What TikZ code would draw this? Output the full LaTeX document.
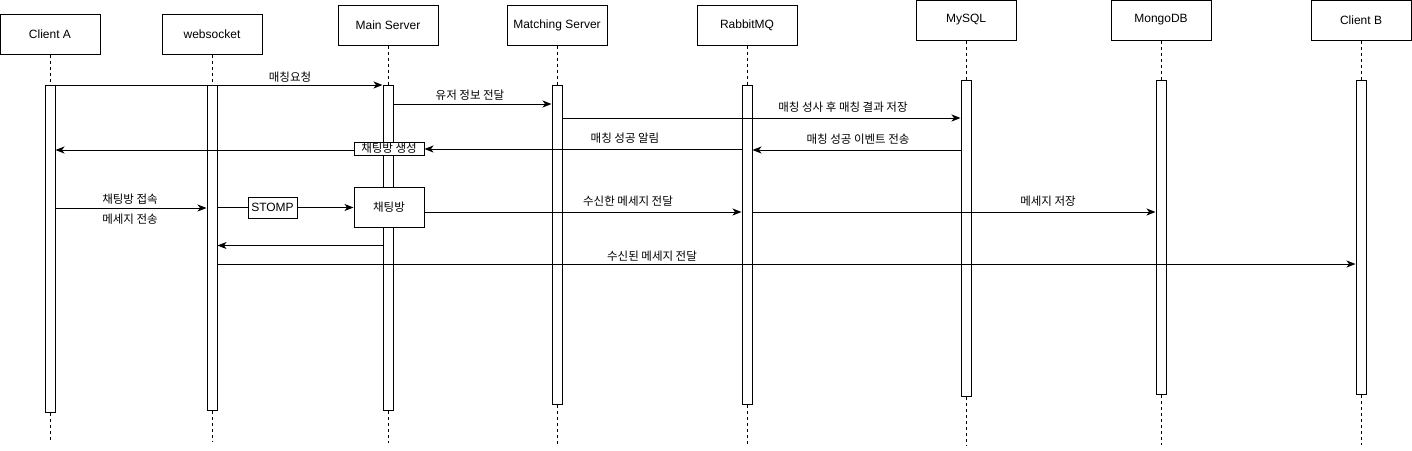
\documentclass[tikz,border=0pt]{standalone}
\usepackage{fontspec}
\setmainfont{Liberation Sans}
\newfontfamily\kr{Noto Sans CJK KR}
\usetikzlibrary{arrows.meta}
\begin{document}
\begin{tikzpicture}[x=1pt,y=-1pt,
 hdr/.style={draw,line width=1pt,minimum width=100pt,minimum height=40pt,inner sep=0pt,font=\fontsize{12}{14}\selectfont},
 bar/.style={draw,line width=1pt,fill=white,minimum width=10pt,inner sep=0pt,anchor=north},
 life/.style={line width=0.9pt,dash pattern=on 3pt off 3pt},
 msg/.style={line width=1pt,-{Stealth[length=9pt,width=7pt,inset=2.5pt]}},
 plain/.style={line width=1pt},
 lbl/.style={font=\kr\fontsize{11.5}{13}\selectfont,inner sep=0pt},
 tbox/.style={draw,line width=1pt,fill=white,inner sep=0pt}]
\useasboundingbox (0,0) rectangle (1412,450);
% headers
\node[hdr] (hA) at (50,34) {Client A};
\node[hdr] (hW) at (212,34) {websocket};
\node[hdr] (hM) at (388,25) {Main Server};
\node[hdr] (hMS) at (557,25) {Matching Server};
\node[hdr] (hR) at (747,25) {RabbitMQ};
\node[hdr] (hSQL) at (966,20) {MySQL};
\node[hdr] (hMG) at (1161,20) {MongoDB};
\node[hdr] (hB) at (1361,20) {Client B};
% lifeline ends
\coordinate (eA) at (50,440);
\coordinate (eW) at (212,442);
\coordinate (eM) at (388,443);
\coordinate (eMS) at (557,444);
\coordinate (eR) at (747,444);
\coordinate (eSQL) at (966,446);
\coordinate (eMG) at (1161,445);
\coordinate (eB) at (1361,445);
% activation bars
\node[bar,minimum height=327pt] (aA) at (50,85) {};
\node[bar,minimum height=325pt] (aW) at (212,85) {};
\node[bar,minimum height=325pt] (aM) at (388,85) {};
\node[bar,minimum height=319pt] (aMS) at (557,85) {};
\node[bar,minimum height=319pt] (aR) at (747,85) {};
\node[bar,minimum height=316pt] (aSQL) at (966,80) {};
\node[bar,minimum height=314pt] (aMG) at (1161,80) {};
\node[bar,minimum height=314pt] (aB) at (1361,80) {};
% lifelines
\foreach \n in {A,W,M,MS,R,SQL,MG,B}{
  \draw[life] (h\n.south) -- (a\n.north);
  \draw[life] (a\n.south) -- (e\n);
}
% boxes on main server
\node[tbox,minimum width=70pt,minimum height=13pt,font=\kr\fontsize{11.5}{12}\selectfont] (gen) at (389,148.5) {채팅방 생성};
\node[tbox,minimum width=70pt,minimum height=40pt,font=\kr\fontsize{11.5}{13}\selectfont] (room) at (389,207) {채팅방};
\node[tbox,minimum width=49pt,minimum height=21pt,font=\fontsize{12}{14}\selectfont] (stomp) at (272.5,207.5) {STOMP};
% messages
\draw[msg] (aA.east |- 0,85) -- (aM.west |- 0,85);
\node[lbl] (l1) at (290,77) {매칭요청};
\draw[msg] (aM.east |- 0,104) -- (aMS.west |- 0,104);
\node[lbl] (l2) at (470,95) {유저 정보 전달};
\draw[msg] (aMS.east |- 0,118) -- (aSQL.west |- 0,118);
\node[lbl] (l3) at (843,107) {매칭 성사 후 매칭 결과 저장};
\draw[msg] (aSQL.west |- 0,150) -- (aR.east |- 0,150);
\node[lbl] (l4) at (858,139) {매칭 성공 이벤트 전송};
\draw[msg] (aR.west |- 0,149) -- (gen.east |- 0,149);
\node[lbl] (l5) at (625,138) {매칭 성공 알림};
\draw[msg] (gen.west |- 0,150) -- (aA.east |- 0,150);
\draw[msg] (aA.east |- 0,208) -- (aW.west |- 0,208);
\node[lbl] (l6) at (130,199) {채팅방 접속};
\node[lbl] (l7) at (130,219) {메세지 전송};
\draw[plain] (aW.east |- 0,207.5) -- (stomp.west);
\draw[msg] (stomp.east) -- (room.west |- 0,207.5);
\draw[msg] (room.east |- 0,212) -- (aR.west |- 0,212);
\node[lbl] (l8) at (628,201) {수신한 메세지 전달};
\draw[msg] (aR.east |- 0,212) -- (aMG.west |- 0,212);
\node[lbl] (l9) at (1048,201) {메세지 저장};
\draw[msg] (aM.west |- 0,245.5) -- (aW.east |- 0,245.5);
\draw[msg] (aW.east |- 0,264) -- (aB.west |- 0,264);
\node[lbl] (l10) at (652,256) {수신된 메세지 전달};
\end{tikzpicture}
\end{document}
